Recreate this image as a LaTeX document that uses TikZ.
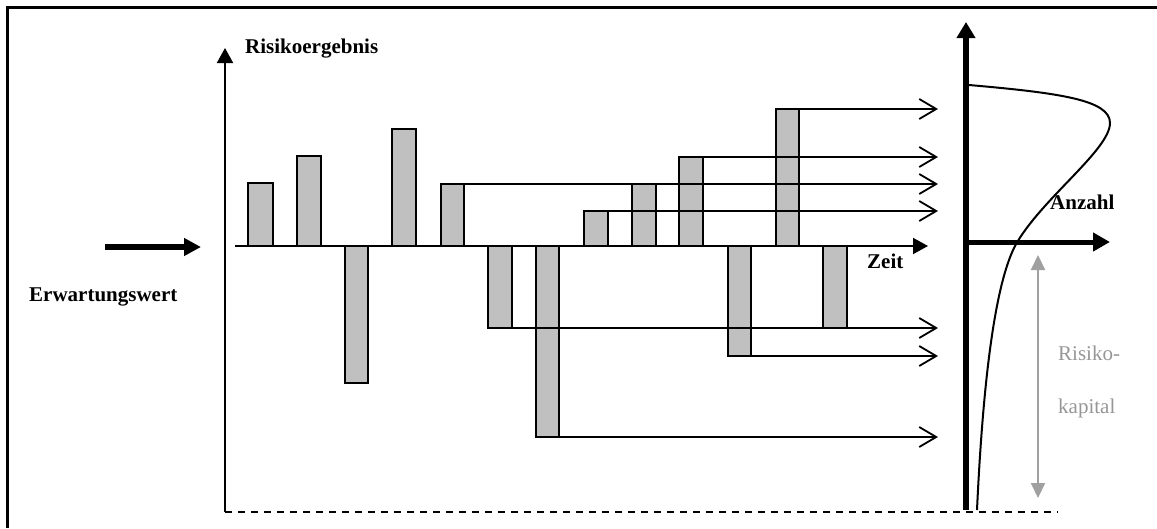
\documentclass[tikz,border=0pt]{standalone}
\usepackage{fontspec}
\setmainfont{Liberation Serif}
\usetikzlibrary{arrows.meta}
\definecolor{barfill}{RGB}{192,192,192}
\definecolor{capgray}{RGB}{160,160,160}
\definecolor{txtgray}{RGB}{150,150,150}
\begin{document}
\begin{tikzpicture}[x=1pt,y=-1pt,
  bar/.style={draw=black,fill=barfill,line width=2pt},
  conn/.style={line width=2pt,-{Straight Barb[length=17pt,width=20pt,line width=1.8pt]}},
  lbl/.style={font=\fontsize{21}{25}\selectfont\bfseries,inner sep=0pt,anchor=base west},
  glbl/.style={font=\fontsize{21}{25}\selectfont,text=txtgray,inner sep=0pt,anchor=base west}]
\useasboundingbox (0,0) rectangle (1157,528);
% frame
\draw[line width=3pt] (7.5,528) -- (7.5,7.5) -- (1157,7.5);
% bars
\draw[bar] (248,246) rectangle (273,183);
\draw[bar] (297,246) rectangle (321,156);
\draw[bar] (345,246) rectangle (368,383);
\draw[bar] (392,246) rectangle (416,129);
\draw[bar] (441,246) rectangle (464,184);
\draw[bar] (488,246) rectangle (512,328);
\draw[bar] (536,246) rectangle (559,437);
\draw[bar] (584,246) rectangle (608,211);
\draw[bar] (632,246) rectangle (656,184);
\draw[bar] (679,246) rectangle (703,157);
\draw[bar] (728,246) rectangle (751,356);
\draw[bar] (776,246) rectangle (799,109);
\draw[bar] (823,246) rectangle (847,328);
% connector start/end coordinates
\coordinate (s5) at (464,184);  \coordinate (e5) at (938,184);
\coordinate (s8) at (608,211);  \coordinate (e8) at (938,211);
\coordinate (s10) at (703,157); \coordinate (e10) at (938,157);
\coordinate (s12) at (799,109); \coordinate (e12) at (938,109);
\coordinate (s6) at (512,328);  \coordinate (e6) at (938,328);
\coordinate (s11) at (751,356); \coordinate (e11) at (938,356);
\coordinate (s7) at (559,437);  \coordinate (e7) at (938,437);
\foreach \i in {5,8,10,12,6,11,7} \draw[conn] (s\i) -- (e\i);
% axes
\coordinate (x0) at (235,246); \coordinate (x1) at (928,246);
\draw[line width=2pt,-{Triangle[length=15pt,width=16pt]}] (x0) -- (x1);
\coordinate (y0) at (225,512); \coordinate (y1) at (225,48);
\draw[line width=2pt,-{Triangle[length=15pt,width=16pt]}] (y0) -- (y1);
\coordinate (d1) at (1058,512);
\draw[line width=2pt,dash pattern=on 7pt off 6pt] (y0) -- (d1);
\coordinate (v0) at (966,510); \coordinate (v1) at (966,22);
\draw[line width=6.5pt,-{Triangle[length=16pt,width=18pt]}] (v0) -- (v1);
\coordinate (h0) at (969,242); \coordinate (h1) at (1110,242);
\draw[line width=5pt,-{Triangle[length=17pt,width=18pt]}] (h0) -- (h1);
\coordinate (ew0) at (105,247); \coordinate (ew1) at (201,247);
\draw[line width=6pt,-{Triangle[length=17pt,width=17pt]}] (ew0) -- (ew1);
\coordinate (g0) at (1038,255); \coordinate (g1) at (1038,498);
\draw[capgray,line width=2pt,{Triangle[length=15pt,width=14pt]}-{Triangle[length=15pt,width=14pt]}] (g0) -- (g1);
% distribution curve
\draw[line width=2pt] (969,85) .. controls (1060,93) and (1110,100) .. (1110,123)
  .. controls (1110,150) and (1040,200) .. (1015,246)
  .. controls (995,285) and (983,380) .. (977,510);
% labels
\node[lbl] (tr) at (245,53) {Risikoergebnis};
\node[lbl] (te) at (29,301) {Erwartungswert};
\node[lbl] (tz) at (867,268) {Zeit};
\node[lbl] (ta) at (1050,209) {Anzahl};
\node[glbl] (tk1) at (1058,360) {Risiko-};
\node[glbl] (tk2) at (1058,413) {kapital};
\end{tikzpicture}
\end{document}
